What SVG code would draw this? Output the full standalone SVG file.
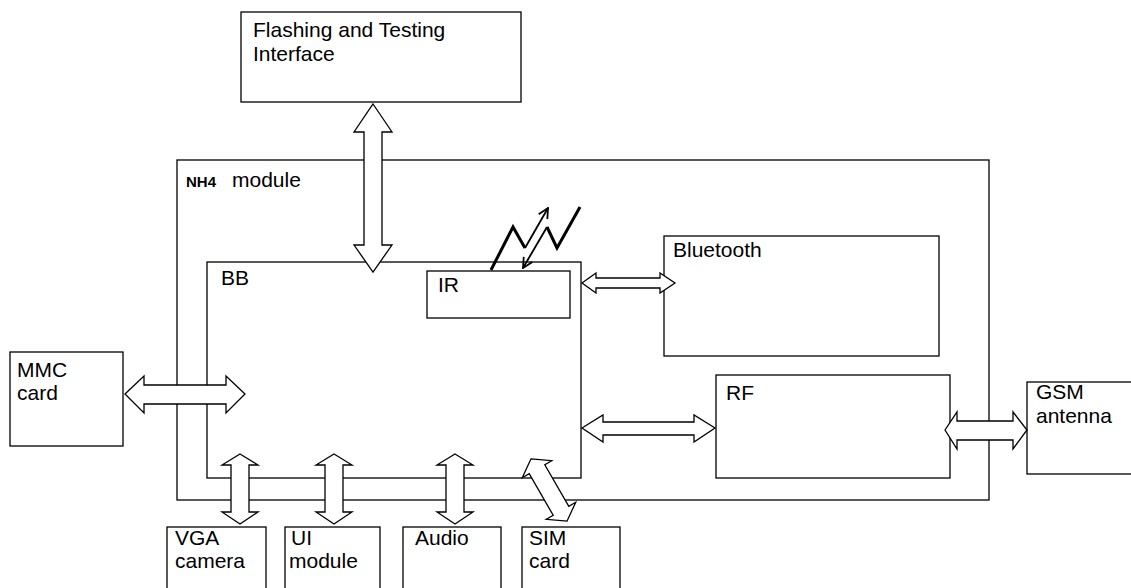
<svg xmlns="http://www.w3.org/2000/svg" width="1131" height="588" viewBox="0 0 1131 588">
<defs>
<style>
.box{fill:#fff;stroke:#000;stroke-width:1.3}
.frame{fill:none;stroke:#000;stroke-width:1.3}
.arr{fill:#fff;stroke:#000;stroke-width:1.3;stroke-linejoin:miter}
.t{font-family:"Liberation Sans",Arial,sans-serif;font-size:21px;fill:#000}
.tb{font-family:"Liberation Sans",Arial,sans-serif;font-size:15px;font-weight:bold;fill:#000}
.zz{fill:none;stroke:#000;stroke-width:3;stroke-linejoin:miter}
.thin{fill:none;stroke:#000;stroke-width:1.8}
</style>
<marker id="vh" viewBox="0 0 12 12" refX="11" refY="6" markerWidth="12" markerHeight="12" markerUnits="userSpaceOnUse" orient="auto">
<polyline points="1,1 11,6 1,11" fill="none" stroke="#000" stroke-width="1.8"/>
</marker>
</defs>
<rect width="1131" height="588" fill="#fff"/>

<g id="nh4">
<rect class="frame" x="177" y="160" width="812" height="340"/>
<text class="tb" x="186" y="187">NH4</text>
<text class="t" x="232" y="187">module</text>
</g>

<g id="flashing">
<rect class="box" x="241" y="12" width="280" height="90"/>
<text class="t" x="253" y="37">Flashing and Testing</text>
<text class="t" x="253" y="61">Interface</text>
</g>

<g id="bb">
<rect class="frame" x="207" y="262" width="374" height="216"/>
<text class="t" x="221" y="285">BB</text>
</g>

<g id="ir">
<rect class="box" x="427" y="271" width="143" height="47"/>
<text class="t" x="438" y="292">IR</text>
</g>

<g id="bluetooth">
<rect class="box" x="664" y="236" width="275" height="120"/>
<text class="t" x="673" y="257">Bluetooth</text>
</g>

<g id="rf">
<rect class="box" x="716" y="375" width="234" height="103"/>
<text class="t" x="726" y="400">RF</text>
</g>

<g id="mmc">
<rect class="box" x="10" y="352" width="113" height="94"/>
<text class="t" x="17" y="377">MMC</text>
<text class="t" x="17" y="400">card</text>
</g>

<g id="gsm">
<rect class="box" x="1027" y="382" width="110" height="92"/>
<text class="t" x="1036" y="399">GSM</text>
<text class="t" x="1036" y="423">antenna</text>
</g>

<g id="vga">
<rect class="box" x="167" y="527" width="99" height="70"/>
<text class="t" x="175" y="545">VGA</text>
<text class="t" x="175" y="568">camera</text>
</g>

<g id="ui">
<rect class="box" x="285" y="527" width="95" height="70"/>
<text class="t" x="291" y="545">UI</text>
<text class="t" x="289" y="568">module</text>
</g>

<g id="audio">
<rect class="box" x="403" y="527" width="98" height="70"/>
<text class="t" x="415" y="545">Audio</text>
</g>

<g id="sim">
<rect class="box" x="522" y="527" width="98" height="70"/>
<text class="t" x="529" y="545">SIM</text>
<text class="t" x="529" y="568">card</text>
</g>

<g id="connectors">
<polygon class="arr" points="373,104 392,132 382,132 382,245 392,245 373,272 354,245 364,245 364,132 354,132"/>
<polygon class="arr" points="125,394 144,376 144,385 226,385 226,376 245,394 226,413 226,404 144,404 144,413"/>
<polygon class="arr" points="582,283 596,273 596,278 660,278 660,273 675,283 660,293 660,288 596,288 596,293"/>
<polygon class="arr" points="582,428 603,415 603,422 694,422 694,415 715,428 694,442 694,435 603,435 603,442"/>
<polygon class="arr" points="945,430 957,412 957,421 1013,421 1013,412 1027,430 1013,449 1013,440 957,440 957,449"/>
<polygon class="arr" points="240,454 258,465 249,465 249,512 258,512 240,524 222,512 231,512 231,465 222,465"/>
<polygon class="arr" points="334,454 352,465 343,465 343,512 352,512 334,524 316,512 325,512 325,465 316,465"/>
<polygon class="arr" points="455,454 473,465 464,465 464,512 473,512 455,524 437,512 446,512 446,465 437,465"/>
<polygon class="arr" transform="translate(549,490) rotate(60)" points="-36,0 -24,-17 -24,-9 24,-9 24,-17 36,0 24,17 24,9 -24,9 -24,17"/>
<polyline class="zz" points="491,270 513,227 525,248"/>
<line class="thin" x1="525" y1="248" x2="548" y2="208" marker-end="url(#vh)"/>
<polyline class="zz" points="580,207 557,248 547,227"/>
<line class="thin" x1="547" y1="227" x2="523" y2="268" marker-end="url(#vh)"/>
</g>
</svg>
